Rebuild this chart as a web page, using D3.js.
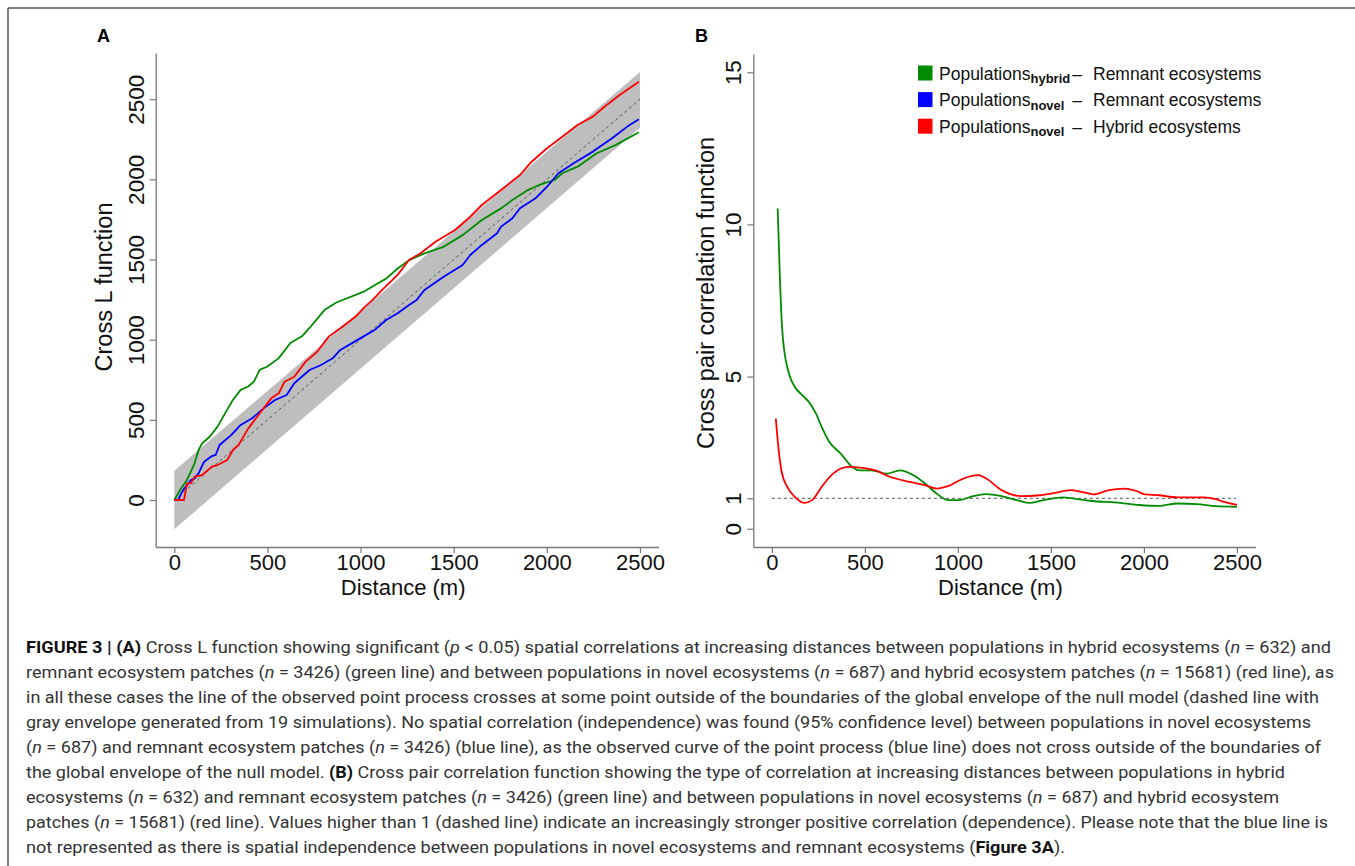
<!DOCTYPE html>
<html>
<head>
<meta charset="utf-8">
<script src="https://cdn.jsdelivr.net/npm/d3@7"></script>
<style>
  body { margin: 0; background: #fff; }
  svg { display: block; }
  .tick text { fill: #111; }
</style>
</head>
<body>
<div id="chart"></div>
<script>
// ---- panel A : cross L function ----
var xTicks = [0, 500, 1000, 1500, 2000, 2500];
var yTicksA = [0, 500, 1000, 1500, 2000, 2500];
var yTicksB = [0, 1, 5, 10, 15];

var envDist = [0, 2500];
var envLo = [-182, 2322];
var envHi = [182, 2670];
var theoDist = [0, 2500];
var theoL = [0, 2500];

var aGreenDist = [0, 37, 68, 109, 130, 150, 191, 232, 273, 315, 356, 397, 428, 458, 500, 561, 623, 685, 726, 808, 870, 1014, 1075, 1137, 1199, 1260, 1343, 1445, 1548, 1651, 1754, 1815, 1898, 1959, 2042, 2083, 2165, 2268, 2371, 2494];
var aGreenL = [0, 73, 125, 229, 312, 354, 396, 458, 542, 625, 687, 708, 740, 812, 833, 885, 979, 1021, 1073, 1187, 1232, 1298, 1340, 1381, 1444, 1496, 1538, 1579, 1652, 1746, 1819, 1871, 1933, 1965, 1996, 2038, 2079, 2163, 2215, 2294];

var aBlueDist = [0, 20, 47, 89, 109, 130, 160, 202, 222, 243, 305, 356, 418, 479, 541, 603, 644, 726, 788, 850, 891, 952, 1014, 1075, 1137, 1199, 1260, 1301, 1343, 1446, 1548, 1589, 1651, 1733, 1754, 1815, 1856, 1939, 2001, 2062, 2144, 2247, 2350, 2432, 2494];
var aBlueL = [0, 0, 62, 125, 135, 166, 239, 274, 281, 343, 405, 468, 510, 572, 624, 655, 728, 811, 842, 884, 936, 977, 1019, 1060, 1123, 1165, 1216, 1248, 1310, 1393, 1466, 1528, 1591, 1664, 1705, 1757, 1820, 1882, 1954, 2038, 2100, 2173, 2256, 2329, 2375];

var aRedDist = [0, 52, 68, 89, 109, 150, 202, 232, 284, 315, 345, 397, 459, 520, 561, 592, 644, 705, 767, 829, 891, 972, 1024, 1065, 1116, 1199, 1260, 1322, 1404, 1507, 1589, 1651, 1754, 1856, 1918, 2001, 2083, 2164, 2247, 2309, 2391, 2494];
var aRedL = [0, 0, 104, 104, 146, 156, 208, 218, 250, 312, 343, 447, 541, 634, 666, 738, 769, 863, 925, 1019, 1071, 1143, 1206, 1248, 1310, 1404, 1497, 1539, 1612, 1684, 1767, 1840, 1934, 2027, 2110, 2194, 2266, 2339, 2391, 2453, 2526, 2609];

// ---- panel B : cross pair correlation function ----
var refDist = [0, 2495];
var refG = [1, 1];

var bGreenDist = [31, 38, 45, 52, 60, 70, 85, 103, 123, 165, 206, 237, 268, 309, 370, 432, 473, 535, 617, 689, 761, 823, 885, 947, 1008, 1070, 1152, 1235, 1317, 1379, 1461, 1564, 1626, 1708, 1873, 1976, 2079, 2181, 2284, 2387, 2500];
var bGreenG = [10.52, 9.2, 7.9, 6.9, 6.2, 5.7, 5.25, 4.9, 4.66, 4.38, 4.11, 3.78, 3.34, 2.85, 2.47, 2.03, 1.92, 1.92, 1.81, 1.92, 1.76, 1.49, 1.16, 0.94, 0.94, 1.05, 1.14, 1.07, 0.94, 0.85, 0.94, 1.03, 0.99, 0.92, 0.85, 0.78, 0.75, 0.83, 0.81, 0.74, 0.72];

var bRedDist = [21, 31, 51, 82, 123, 175, 216, 268, 329, 412, 473, 556, 638, 741, 823, 885, 947, 1029, 1111, 1152, 1235, 1338, 1440, 1523, 1605, 1667, 1729, 1811, 1893, 1955, 2007, 2079, 2181, 2325, 2387, 2428, 2500];
var bRedG = [3.62, 2.91, 1.92, 1.38, 1.05, 0.85, 0.94, 1.38, 1.81, 2.03, 2.01, 1.92, 1.7, 1.54, 1.43, 1.32, 1.4, 1.65, 1.76, 1.65, 1.27, 1.07, 1.1, 1.18, 1.27, 1.21, 1.13, 1.27, 1.32, 1.25, 1.13, 1.1, 1.03, 1.03, 0.97, 0.89, 0.78];

var legendSub = ["hybrid", "novel", "novel"];
var legendRight = ["Remnant ecosystems", "Remnant ecosystems", "Hybrid ecosystems"];
var legendColors = ["#008b00", "#0000ff", "#ff0000"];

var captionLines = [
  [["FIGURE 3 | (A)", "b"], [" Cross L function showing significant (", ""], ["p", "i"], [" < 0.05) spatial correlations at increasing distances between populations in hybrid ecosystems (", ""], ["n", "i"], [" = 632) and", ""]],
  [["remnant ecosystem patches (", ""], ["n", "i"], [" = 3426) (green line) and between populations in novel ecosystems (", ""], ["n", "i"], [" = 687) and hybrid ecosystem patches (", ""], ["n", "i"], [" = 15681) (red line), as", ""]],
  [["in all these cases the line of the observed point process crosses at some point outside of the boundaries of the global envelope of the null model (dashed line with", ""]],
  [["gray envelope generated from 19 simulations). No spatial correlation (independence) was found (95% confidence level) between populations in novel ecosystems", ""]],
  [["(", ""], ["n", "i"], [" = 687) and remnant ecosystem patches (", ""], ["n", "i"], [" = 3426) (blue line), as the observed curve of the point process (blue line) does not cross outside of the boundaries of", ""]],
  [["the global envelope of the null model. ", ""], ["(B)", "b"], [" Cross pair correlation function showing the type of correlation at increasing distances between populations in hybrid", ""]],
  [["ecosystems (", ""], ["n", "i"], [" = 632) and remnant ecosystem patches (", ""], ["n", "i"], [" = 3426) (green line) and between populations in novel ecosystems (", ""], ["n", "i"], [" = 687) and hybrid ecosystem", ""]],
  [["patches (", ""], ["n", "i"], [" = 15681) (red line). Values higher than 1 (dashed line) indicate an increasingly stronger positive correlation (dependence). Please note that the blue line is", ""]],
  [["not represented as there is spatial independence between populations in novel ecosystems and remnant ecosystems (", ""], ["Figure 3A", "b"], [").", ""]]
];
var captionEnds = [1331, 1334, 1319, 1311, 1321, 1285, 1279, 1328, 1065];

var font = "'Liberation Sans', Arial, Helvetica, sans-serif";

var svg = d3.select("#chart").append("svg")
    .attr("width", 1355)
    .attr("height", 866)
    .style("font-family", font);

// outer frame (top + left only, rest is cut off)
svg.append("line").attr("x1", 8).attr("y1", 8).attr("x2", 1355).attr("y2", 8)
    .attr("stroke", "#555").attr("stroke-width", 1.5);
svg.append("line").attr("x1", 8).attr("y1", 8).attr("x2", 8).attr("y2", 866)
    .attr("stroke", "#555").attr("stroke-width", 1.5);

var xA = d3.scaleLinear().domain([-100, 2600]).range([155.7, 658.6]);
var yA = d3.scaleLinear().domain([-293, 2788]).range([547, 53]);
var xB = d3.scaleLinear().domain([-100, 2600]).range([753.3, 1255.5]);
var yB = d3.scaleLinear().domain([-0.6, 15.6]).range([547, 54]);

function zip(xs, ys) {
  return xs.map(function(d, i) { return [d, ys[i]]; });
}

function drawAxes(x, y, yTicks, xTitle, yTitle, yTitleCenter, yTitleX) {
  var xAxis = d3.axisBottom(x).tickValues(xTicks).tickFormat(d3.format("d")).tickSize(6).tickSizeOuter(0);
  var yAxis = d3.axisLeft(y).tickValues(yTicks).tickFormat(d3.format("d")).tickSize(6).tickSizeOuter(0);

  var gx = svg.append("g")
      .attr("transform", "translate(0," + y.range()[0] + ")")
      .call(xAxis);
  gx.select(".domain").attr("stroke", "#777").attr("stroke-width", 1.3);
  gx.selectAll(".tick line").attr("stroke", "#777").attr("stroke-width", 1.2);
  gx.selectAll(".tick text")
      .attr("y", 23).attr("dy", 0)
      .style("font-size", "22px").style("font-family", font);

  var gy = svg.append("g")
      .attr("transform", "translate(" + x.range()[0] + ",0)")
      .call(yAxis);
  gy.select(".domain").attr("stroke", "#777").attr("stroke-width", 1.3);
  gy.selectAll(".tick line").attr("stroke", "#777").attr("stroke-width", 1.2);
  gy.selectAll(".tick text")
      .attr("transform", "rotate(-90)")
      .attr("x", 0).attr("y", -12).attr("dy", 0)
      .attr("text-anchor", "middle")
      .style("font-size", "22.5px").style("font-family", font);

  svg.append("text")
      .attr("x", (x.range()[0] + x.range()[1]) / 2 - 4)
      .attr("y", 595)
      .attr("text-anchor", "middle")
      .style("font-size", "22px")
      .attr("fill", "#111")
      .text(xTitle);

  svg.append("text")
      .attr("transform", "translate(" + yTitleX + "," + yTitleCenter + ") rotate(-90)")
      .attr("text-anchor", "middle")
      .style("font-size", "23.5px")
      .attr("fill", "#111")
      .text(yTitle);
}

// ---------- panel A ----------
var area = d3.area()
    .x(function(d) { return xA(d[0]); })
    .y0(function(d) { return yA(d[1]); })
    .y1(function(d) { return yA(d[2]); });

svg.append("path")
    .datum(envDist.map(function(d, i) { return [d, envLo[i], envHi[i]]; }))
    .attr("d", area)
    .attr("fill", "#bebebe");

var lineA = d3.line()
    .x(function(d) { return xA(d[0]); })
    .y(function(d) { return yA(d[1]); });

svg.append("path")
    .datum(zip(theoDist, theoL))
    .attr("d", lineA)
    .attr("fill", "none")
    .attr("stroke", "#555")
    .attr("stroke-width", 1)
    .attr("stroke-dasharray", "3,3");

var seriesA = [
  {dist: aGreenDist, val: aGreenL, color: "#008b00"},
  {dist: aBlueDist, val: aBlueL, color: "#0000ff"},
  {dist: aRedDist, val: aRedL, color: "#ff0000"}
];

svg.append("g")
    .selectAll("path")
    .data(seriesA)
    .enter().append("path")
    .attr("d", function(d) { return lineA(zip(d.dist, d.val)); })
    .attr("fill", "none")
    .attr("stroke", function(d) { return d.color; })
    .attr("stroke-width", 1.8)
    .attr("stroke-linejoin", "round");

drawAxes(xA, yA, yTicksA, "Distance (m)", "Cross L function", 287, 112);

svg.append("text")
    .attr("x", 97).attr("y", 42)
    .style("font-size", "18px").style("font-weight", "bold")
    .text("A");

// ---------- panel B ----------
var lineB = d3.line()
    .x(function(d) { return xB(d[0]); })
    .y(function(d) { return yB(d[1]); });

svg.append("path")
    .datum(zip(refDist, refG))
    .attr("d", lineB)
    .attr("fill", "none")
    .attr("stroke", "#555")
    .attr("stroke-width", 1)
    .attr("stroke-dasharray", "3,3");

var smoothB = d3.line()
    .curve(d3.curveMonotoneX)
    .x(function(d) { return xB(d[0]); })
    .y(function(d) { return yB(d[1]); });

var seriesB = [
  {dist: bGreenDist, val: bGreenG, color: "#008b00"},
  {dist: bRedDist, val: bRedG, color: "#ff0000"}
];

svg.append("g")
    .selectAll("path")
    .data(seriesB)
    .enter().append("path")
    .attr("d", function(d) { return smoothB(zip(d.dist, d.val)); })
    .attr("fill", "none")
    .attr("stroke", function(d) { return d.color; })
    .attr("stroke-width", 1.8);

drawAxes(xB, yB, yTicksB, "Distance (m)", "Cross pair correlation function", 293, 714);

svg.append("text")
    .attr("x", 695).attr("y", 42)
    .style("font-size", "18px").style("font-weight", "bold")
    .text("B");

// legend
var legend = svg.append("g");
legendSub.forEach(function(sub, i) {
  var base = 79.5 + i * 26.6;
  legend.append("rect")
      .attr("x", 918).attr("y", base - 14)
      .attr("width", 14.5).attr("height", 15)
      .attr("fill", legendColors[i]);
  var main = legend.append("text")
      .attr("x", 939).attr("y", base)
      .style("font-size", "17.5px")
      .attr("fill", "#111")
      .text("Populations");
  var w = main.node().getComputedTextLength();
  legend.append("text")
      .attr("x", 939 + w).attr("y", base + 3.5)
      .style("font-size", "13px").style("font-weight", "bold")
      .attr("fill", "#111")
      .text(sub);
  legend.append("text")
      .attr("x", 1077).attr("y", base)
      .attr("text-anchor", "middle")
      .style("font-size", "17.5px")
      .attr("fill", "#111")
      .text("\u2013");
  legend.append("text")
      .attr("x", 1093).attr("y", base)
      .style("font-size", "17.5px")
      .attr("fill", "#111")
      .text(legendRight[i]);
});

// caption
var cap = svg.append("g")
    .style("font-family", "Roboto, 'Liberation Sans', sans-serif")
    .style("font-size", "16.5px")
    .attr("fill", "#333");

captionLines.forEach(function(segs, i) {
  var t = cap.append("text")
      .attr("x", 26)
      .attr("y", 653 + i * 25)
      .attr("textLength", captionEnds[i] - 26)
      .attr("lengthAdjust", "spacingAndGlyphs");
  segs.forEach(function(s) {
    var ts = t.append("tspan").text(s[0]);
    if (s[1] == "b") ts.style("font-weight", "bold").attr("fill", "#111");
    if (s[1] == "i") ts.style("font-style", "italic");
  });
});
</script>
</body>
</html>
